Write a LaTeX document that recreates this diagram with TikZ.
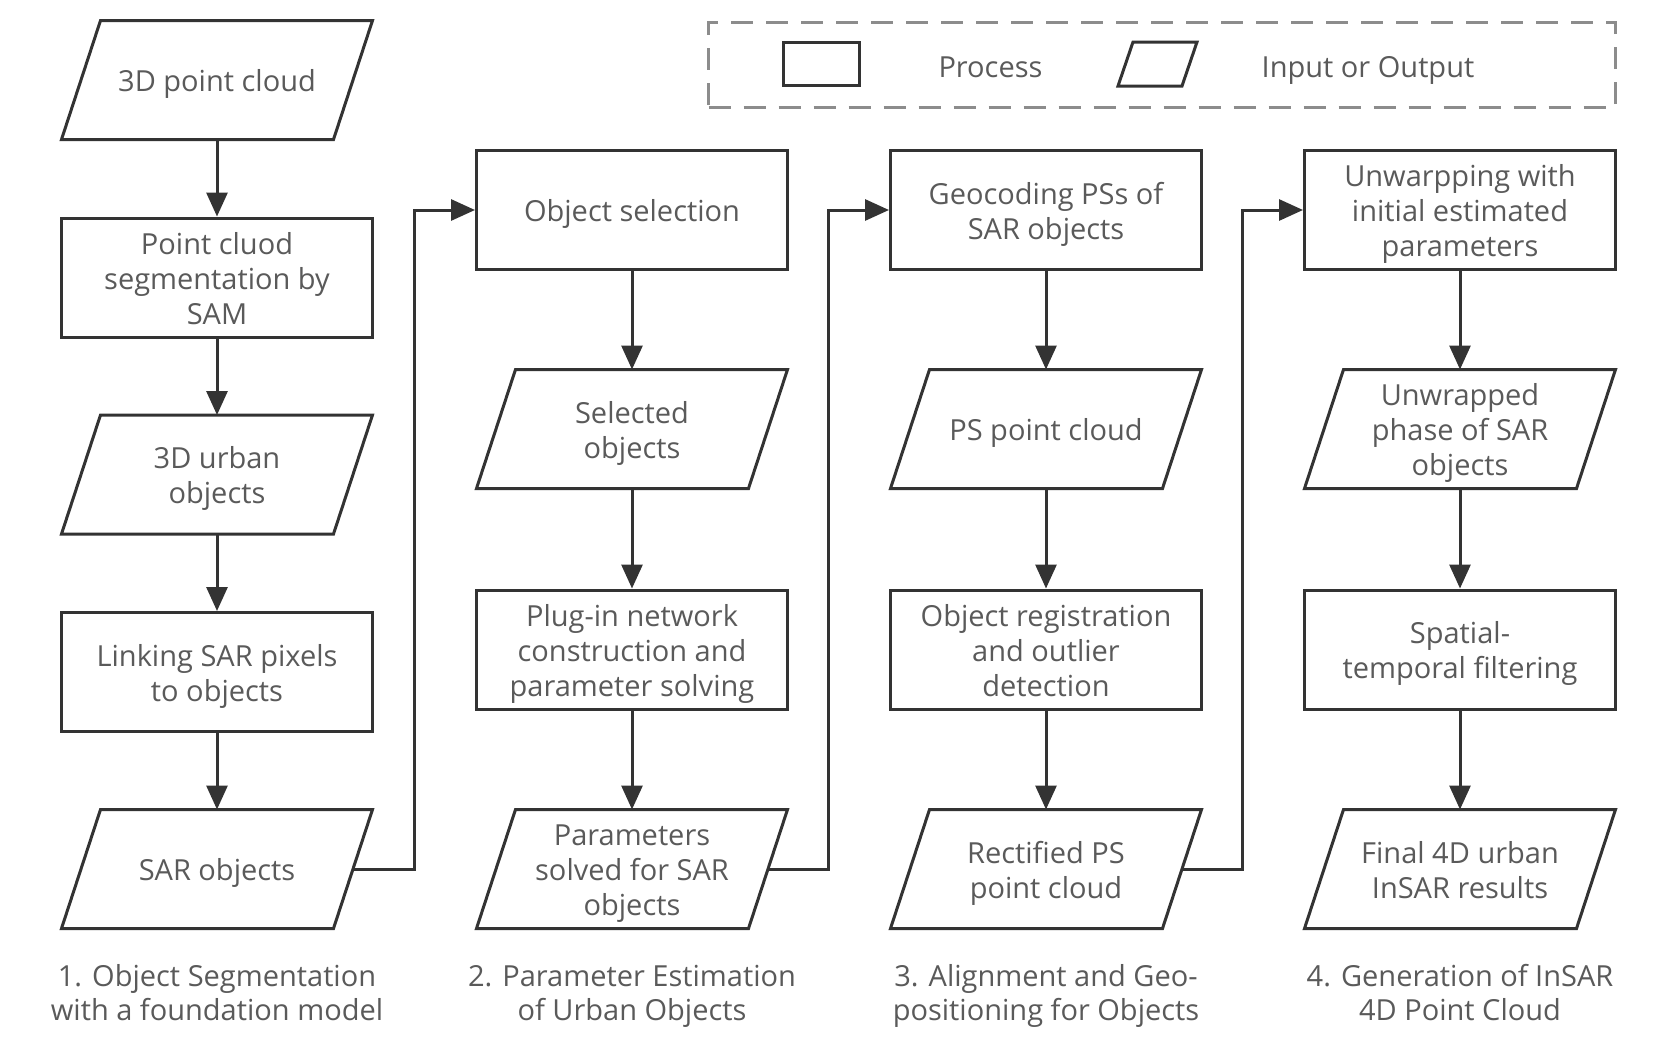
\documentclass[tikz,border=0pt]{standalone}
\usepackage{fontspec}
\setmainfont{Open Sans}
\usetikzlibrary{arrows.meta,calc}
\definecolor{ln}{HTML}{333333}
\definecolor{tx}{HTML}{5A5A5A}
\definecolor{dsh}{HTML}{8C8C8C}
\newcommand\mytopstrut{\rule{0pt}{31pt}}
\newcommand\mybotstrut{\rule[-8pt]{0pt}{8pt}}
\begin{document}
\begin{tikzpicture}[x=1pt,y=-1pt,
  font=\fontsize{29}{35}\selectfont,
  every node/.style={text=tx},
  txt/.style={align=center, inner sep=0pt, execute at begin node=\mytopstrut, execute at end node=\mybotstrut},
  proc/.style={txt, draw=ln, line width=3pt, minimum width=311pt, minimum height=119pt},
  io/.style={txt, minimum width=272pt, minimum height=119pt, outer sep=0pt},
  arr/.style={draw=ln, line width=3pt, -{Triangle[length=24pt,width=21pt]}},
  captext/.style={txt, font=\fontsize{29}{33.5}\selectfont},
]
\useasboundingbox (0,0) rectangle (1658,1060);
\fill[white] (0,0) rectangle (1658,1060);

% legend
\node[draw=dsh, line width=3pt, dash pattern=on 22pt off 13pt, minimum width=907pt, minimum height=85pt, inner sep=0pt] (leg) at (1162,64.5) {};
\node[draw=ln, line width=3pt, minimum width=76pt, minimum height=43pt, inner sep=0pt] (lp) at (821,63.5) {};
\node[txt] (lpt) at (990.5,65.5) {Process};
\node[minimum width=64pt, minimum height=44pt, inner sep=0pt, outer sep=0pt] (li) at (1157.5,64) {};
\draw[ln, line width=3pt] ([xshift=-7.5pt]li.south west) -- ([xshift=-7.5pt]li.south east) -- ([xshift=7.5pt]li.north east) -- ([xshift=7.5pt]li.north west) -- cycle;
\node[txt] (lit) at (1368,65.5) {Input or Output};

% column 1
\node[io]   (a1) at (217,80)    {3D point cloud};
\node[proc] (a2) at (217,277.5) {\mytopstrut Point cluod\\segmentation by\\SAM};
\node[io]   (a3) at (217,474.5) {\mytopstrut 3D urban\\objects};
\node[proc] (a4) at (217,672)   {\mytopstrut Linking SAR pixels\\to objects};
\node[io]   (a5) at (217,869)   {SAR objects};

% column 2
\node[proc] (b1) at (632,210)   {Object selection};
\node[io]   (b2) at (632,429)   {\mytopstrut Selected\\objects};
\node[proc] (b3) at (632,649.5) {\mytopstrut Plug-in network\\construction and\\parameter solving};
\node[io]   (b4) at (632,869)   {\mytopstrut Parameters\\solved for SAR\\objects};

% column 3
\node[proc] (c1) at (1046,210)   {\mytopstrut Geocoding PSs of\\SAR objects};
\node[io]   (c2) at (1046,429)   {PS point cloud};
\node[proc] (c3) at (1046,649.5) {\mytopstrut Object registration\\and outlier\\detection};
\node[io]   (c4) at (1046,869)   {\mytopstrut Rectified PS\\point cloud};

% column 4
\node[proc] (d1) at (1460,210)   {\mytopstrut Unwarpping with\\initial estimated\\parameters};
\node[io]   (d2) at (1460,429)   {\mytopstrut Unwrapped\\phase of SAR\\objects};
\node[proc] (d3) at (1460,649.5) {\mytopstrut Spatial-\\temporal filtering};
\node[io]   (d4) at (1460,869)   {\mytopstrut Final 4D urban\\InSAR results};

% parallelogram outlines
\foreach \n in {a1,a3,a5,b2,b4,c2,c4,d2,d4}
  \draw[ln, line width=3pt] ([xshift=-19.5pt]\n.south west) -- ([xshift=-19.5pt]\n.south east) -- ([xshift=19.5pt]\n.north east) -- ([xshift=19.5pt]\n.north west) -- cycle;

% vertical connectors
\draw[arr] (a1) -- (a2);
\draw[arr] (a2) -- (a3);
\draw[arr] (a3) -- (a4);
\draw[arr] (a4) -- (a5);
\draw[arr] (b1) -- (b2);
\draw[arr] (b2) -- (b3);
\draw[arr] (b3) -- (b4);
\draw[arr] (c1) -- (c2);
\draw[arr] (c2) -- (c3);
\draw[arr] (c3) -- (c4);
\draw[arr] (d1) -- (d2);
\draw[arr] (d2) -- (d3);
\draw[arr] (d3) -- (d4);

% inter-column connectors
\draw[arr] (a5.east) -- ($(a5.east)!0.5!(b1.west |- a5.east)$) |- (b1.west);
\draw[arr] (b4.east) -- ($(b4.east)!0.5!(c1.west |- b4.east)$) |- (c1.west);
\draw[arr] (c4.east) -- ($(c4.east)!0.5!(d1.west |- c4.east)$) |- (d1.west);

% captions
\node[captext] (k1) at (217,992)  {\mytopstrut 1. Object Segmentation\\with a foundation model};
\node[captext] (k2) at (632,992)  {\mytopstrut 2. Parameter Estimation\\of Urban Objects};
\node[captext] (k3) at (1046,992) {\mytopstrut 3. Alignment and Geo-\\positioning for Objects};
\node[captext] (k4) at (1460,992) {\mytopstrut 4. Generation of InSAR\\4D Point Cloud};
\end{tikzpicture}
\end{document}
